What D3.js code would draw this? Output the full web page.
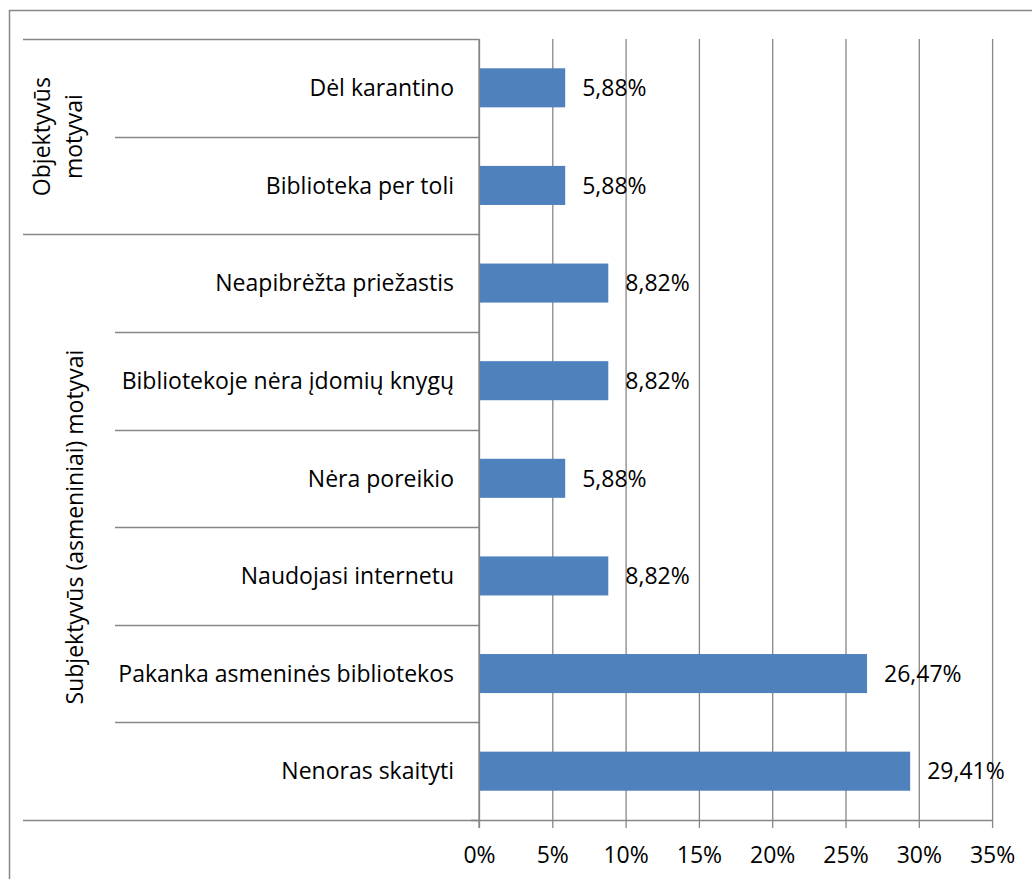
<!DOCTYPE html>
<html>
<head>
<meta charset="utf-8">
<script src="https://cdn.jsdelivr.net/npm/d3@7"></script>
<style>
    body { margin: 0; background: #fff; }
    svg text { font-family: "Open Sans", sans-serif; fill: #000; }
</style>
</head>
<body>
<div id="chart"></div>
<script>
const categories = [
    'Dėl karantino',
    'Biblioteka per toli',
    'Neapibrėžta priežastis',
    'Bibliotekoje nėra įdomių knygų',
    'Nėra poreikio',
    'Naudojasi internetu',
    'Pakanka asmeninės bibliotekos',
    'Nenoras skaityti'
];
const values = [5.88, 5.88, 8.82, 8.82, 5.88, 8.82, 26.47, 29.41];
const groupLabels = [['Objektyvūs', 'motyvai'], ['Subjektyvūs (asmeniniai) motyvai']];
const groupSizes = [2, 6];
const tickValues = [0, 5, 10, 15, 20, 25, 30, 35];

const width = 1032, height = 879;
const margin = { top: 39, left: 479, right: 40, bottom: 59 };
const plotBottom = height - margin.bottom;
const grey = '#878787';
const fontSize = 23;

const svg = d3.select('#chart').append('svg')
    .attr('width', width)
    .attr('height', height);

// chart frame (only the top and left edges are visible)
svg.append('rect')
    .attr('x', 9.5).attr('y', 10.5)
    .attr('width', width + 20).attr('height', height + 20)
    .attr('fill', 'none')
    .attr('stroke', grey)
    .attr('stroke-width', 1.5);

const x = d3.scaleLinear()
    .domain([0, 35])
    .range([margin.left, margin.left + 7 * 73.3]);

const y = d3.scaleBand()
    .domain(categories)
    .range([margin.top, plotBottom])
    .paddingInner(0.6)
    .paddingOuter(0.3);

const step = y.step();
const rowTop = i => margin.top + i * step;

// vertical gridlines
svg.append('g')
    .attr('transform', `translate(0,${plotBottom})`)
    .call(d3.axisBottom(x).tickValues(tickValues).tickSize(-(plotBottom - margin.top)).tickFormat(''))
    .call(g => g.select('.domain').remove())
    .call(g => g.selectAll('line').attr('stroke', grey).attr('stroke-width', 1.3));

// bottom axis
svg.append('g')
    .attr('transform', `translate(0,${plotBottom})`)
    .call(d3.axisBottom(x).tickValues(tickValues).tickSize(8).tickPadding(0).tickFormat(d => d + '%'))
    .call(g => g.select('.domain').attr('d', `M${margin.left - 8},0.5H${x(35)}`).attr('stroke', grey).attr('stroke-width', 1.3))
    .call(g => g.selectAll('line').attr('stroke', grey).attr('stroke-width', 1.3))
    .call(g => g.selectAll('text')
        .attr('y', 43)
        .attr('dy', null)
        .style('font-size', fontSize + 'px'));

// category separators (ticks of the category axis)
const boundaries = d3.range(categories.length + 1);
let groupEdges = [0];
groupSizes.forEach(s => groupEdges.push(groupEdges[groupEdges.length - 1] + s));

svg.append('g').selectAll('line')
    .data(boundaries)
    .join('line')
    .attr('x1', i => groupEdges.includes(i) ? 23 : 115)
    .attr('x2', margin.left)
    .attr('y1', i => Math.round(rowTop(i)) + 0.5)
    .attr('y2', i => Math.round(rowTop(i)) + 0.5)
    .attr('stroke', grey)
    .attr('stroke-width', 1.3);

// vertical category axis line
svg.append('line')
    .attr('x1', margin.left).attr('x2', margin.left)
    .attr('y1', margin.top).attr('y2', plotBottom + 8)
    .attr('stroke', grey)
    .attr('stroke-width', 1.3);

// bars
svg.append('g').selectAll('rect')
    .data(values)
    .join('rect')
    .attr('x', x(0) + 1)
    .attr('y', (d, i) => y(categories[i]))
    .attr('width', d => x(d) - x(0) - 1)
    .attr('height', y.bandwidth())
    .attr('fill', '#4f81bd');

// value labels
svg.append('g').selectAll('text')
    .data(values)
    .join('text')
    .attr('x', d => x(d) + 17)
    .attr('y', (d, i) => y(categories[i]) + y.bandwidth() / 2)
    .attr('dy', '0.36em')
    .style('font-size', fontSize + 'px')
    .text(d => d.toFixed(2).replace('.', ',') + '%');

// category labels
svg.append('g').selectAll('text')
    .data(categories)
    .join('text')
    .attr('x', margin.left - 25)
    .attr('y', d => y(d) + y.bandwidth() / 2)
    .attr('dy', '0.36em')
    .attr('text-anchor', 'end')
    .style('font-size', fontSize + 'px')
    .text(d => d);

// group labels, rotated
groupLabels.forEach((lines, gi) => {
    const cy = (rowTop(groupEdges[gi]) + rowTop(groupEdges[gi + 1])) / 2;
    const baselines = lines.length === 2 ? [50, 82] : [83];
    const t = svg.append('text')
        .attr('transform', `translate(0,${cy}) rotate(-90)`)
        .attr('text-anchor', 'middle')
        .style('font-size', fontSize + 'px');
    lines.forEach((line, li) => {
        t.append('tspan')
            .attr('x', 0)
            .attr('y', baselines[li])
            .text(line);
    });
});
</script>
</body>
</html>
